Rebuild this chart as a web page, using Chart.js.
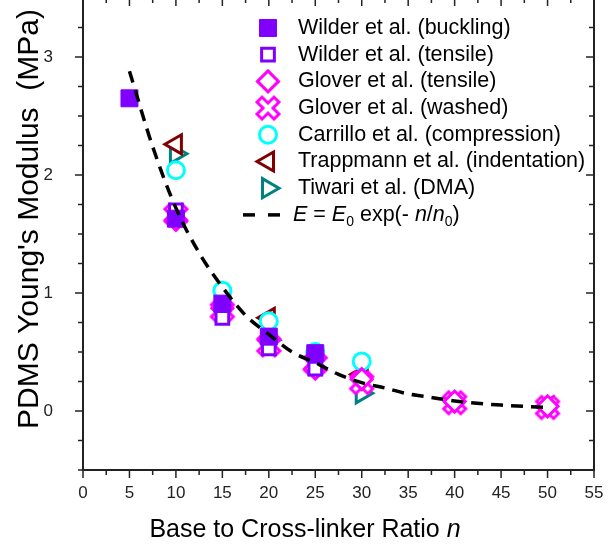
<!DOCTYPE html>
<html>
<head>
<meta charset="utf-8">
<script src="https://cdn.jsdelivr.net/npm/chart.js@4.4.1/dist/chart.umd.min.js"></script>
<style>
  html, body { margin: 0; padding: 0; background: #fff; overflow: hidden; }
  #wrap { position: absolute; left: 0; top: -16px; width: 608px; height: 568px; }
</style>
</head>
<body>
<div id="wrap"><canvas id="modulusChart"></canvas></div>
<script>
// values: n (base : cross-linker) and E in MPa
const wilderBucklingN = [5, 10, 15, 20, 25];
const wilderBucklingE = [2.65, 1.63, 0.91, 0.63, 0.49];
const wilderTensileN = [10, 15, 20, 25];
const wilderTensileE = [1.70, 0.79, 0.53, 0.36];
const gloverTensileN = [10, 15, 20, 25, 30, 40, 50];
const gloverTensileE = [1.62, 0.87, 0.60, 0.36, 0.27, 0.08, 0.04];
const gloverWashedN = [10, 15, 20, 25, 30, 40, 50];
const gloverWashedE = [1.66, 0.85, 0.56, 0.40, 0.24, 0.07, 0.03];
const carrilloN = [10, 15, 20, 25, 30];
const carrilloE = [2.04, 1.02, 0.76, 0.50, 0.42];
const trappmannN = [10, 20, 30, 50];
const trappmannE = [2.26, 0.79, 0.31, 0.035];
const tiwariN = [10, 20, 30];
const tiwariE = [2.18, 0.60, 0.15];
const fitN = [5, 7.5, 10, 12.5, 15, 17.5, 20, 22.5, 25, 27.5, 30, 32.5, 35, 37.5, 40, 45, 50];
const fitE = [2.88, 2.24, 1.72, 1.34, 1.05, 0.81, 0.65, 0.50, 0.41, 0.31, 0.24, 0.195, 0.145, 0.115, 0.085, 0.05, 0.03];

const seriesLabels = ['Wilder et al. (buckling)', 'Wilder et al. (tensile)', 'Glover et al. (tensile)',
  'Glover et al. (washed)', 'Carrillo et al. (compression)', 'Trappmann et al. (indentation)', 'Tiwari et al. (DMA)'];

const VIOLET = '#8000ff', MAGENTA = '#ff00ff', CYAN = '#00ffff', WINE = '#800000', TEAL = '#008080';
const FONT = "'Liberation Sans', Arial, sans-serif";
const SHIFT = 12; // canvas sits 16px above the page top

function pts(xs, ys) {
  return xs.map((v, i) => ({x: v, y: ys[i]}));
}

// thick outlined X marker used for the "washed" series
function makeDoubleCross(color) {
  const c = document.createElement('canvas');
  c.width = 30; c.height = 30;
  const g = c.getContext('2d');
  const s = 11, a = 5;
  g.translate(15, 15);
  g.beginPath();
  g.moveTo(-s, -s + a); g.lineTo(-s + a, -s); g.lineTo(0, -a); g.lineTo(s - a, -s);
  g.lineTo(s, -s + a); g.lineTo(a, 0); g.lineTo(s, s - a); g.lineTo(s - a, s);
  g.lineTo(0, a); g.lineTo(-s + a, s); g.lineTo(-s, s - a); g.lineTo(-a, 0);
  g.closePath();
  g.fillStyle = '#fff';
  g.fill();
  g.strokeStyle = color;
  g.lineWidth = 3;
  g.lineJoin = 'miter';
  g.stroke();
  return c;
}
const doubleCross = makeDoubleCross(MAGENTA);

const markers = [
  {pointStyle: 'rect', radius: 12, rotation: 0, color: VIOLET, fill: VIOLET, borderWidth: 1},
  {pointStyle: 'rect', radius: 9, rotation: 0, color: VIOLET, fill: '#fff', borderWidth: 3},
  {pointStyle: 'rectRot', radius: 10.5, rotation: 0, color: MAGENTA, fill: '#fff', borderWidth: 3},
  {pointStyle: doubleCross, radius: 11, rotation: 0, color: MAGENTA, fill: '#fff', borderWidth: 3},
  {pointStyle: 'circle', radius: 8.5, rotation: 0, color: CYAN, fill: '#fff', borderWidth: 3},
  {pointStyle: 'triangle', radius: 11, rotation: -90, color: WINE, fill: '#fff', borderWidth: 3},
  {pointStyle: 'triangle', radius: 11, rotation: 90, color: TEAL, fill: '#fff', borderWidth: 3}
];

const seriesData = [
  pts(wilderBucklingN, wilderBucklingE),
  pts(wilderTensileN, wilderTensileE),
  pts(gloverTensileN, gloverTensileE),
  pts(gloverWashedN, gloverWashedE),
  pts(carrilloN, carrilloE),
  pts(trappmannN, trappmannE),
  pts(tiwariN, tiwariE)
];

const datasets = seriesData.map((d, i) => ({
  type: 'scatter',
  label: seriesLabels[i],
  data: d,
  order: i + 1,
  pointStyle: markers[i].pointStyle,
  pointRadius: markers[i].radius,
  pointRotation: markers[i].rotation,
  pointBorderColor: markers[i].color,
  pointBackgroundColor: markers[i].fill,
  pointBorderWidth: markers[i].borderWidth,
  pointHoverRadius: markers[i].radius
}));

datasets.push({
  type: 'line',
  label: 'fit',
  data: pts(fitN, fitE),
  order: 0,
  borderColor: '#000',
  borderWidth: 3.5,
  borderDash: [12, 8],
  pointRadius: 0,
  fill: false,
  cubicInterpolationMode: 'monotone'
});

// frame, tick marks, axis titles and legend
const decorations = {
  id: 'decorations',
  afterDraw(chart) {
    const {ctx, chartArea: a, scales: {x, y}} = chart;
    ctx.save();
    ctx.strokeStyle = '#222';
    ctx.lineWidth = 1.5;
    const seg = (x1, y1, x2, y2) => { ctx.beginPath(); ctx.moveTo(x1, y1); ctx.lineTo(x2, y2); ctx.stroke(); };
    x.ticks.forEach(t => {
      const px = x.getPixelForValue(t.value);
      const len = t.value % 5 === 0 ? 8 : 5;
      seg(px, a.bottom, px, a.bottom + len);
      seg(px, a.top, px, a.top + len);
    });
    y.ticks.forEach(t => {
      const py = y.getPixelForValue(t.value);
      const len = Number.isInteger(t.value) ? 8 : 5;
      seg(a.left, py, a.left - len, py);
      seg(a.right, py, a.right - len, py);
    });
    ctx.lineWidth = 2;
    ctx.strokeRect(a.left, a.top, a.right - a.left, a.bottom - a.top);

    // axis titles
    ctx.fillStyle = '#000';
    ctx.textBaseline = 'middle';
    const xt = 'Base to Cross-linker Ratio ';
    ctx.font = '25px ' + FONT;
    const w1 = ctx.measureText(xt).width;
    ctx.font = 'italic 25px ' + FONT;
    const w2 = ctx.measureText('n').width;
    const sx = 305 - (w1 + w2) / 2;
    ctx.textAlign = 'left';
    ctx.font = '25px ' + FONT;
    ctx.fillText(xt, sx, 546 + SHIFT - 12 + 0);
    ctx.font = 'italic 25px ' + FONT;
    ctx.fillText('n', sx + w1, 546 + SHIFT - 12 + 0);

    ctx.save();
    ctx.translate(30, 235);
    ctx.rotate(-Math.PI / 2);
    ctx.textAlign = 'center';
    ctx.font = '30px ' + FONT;
    ctx.fillText('PDMS Young\'s Modulus  (MPa)', 0, 0);
    ctx.restore();

    // legend
    const lx = 268, tx = 298, ly0 = 44, dy = 26.7;
    ctx.textAlign = 'left';
    seriesLabels.forEach((lab, i) => {
      const m = markers[i];
      const cy = ly0 + i * dy;
      ctx.fillStyle = m.fill;
      ctx.strokeStyle = m.color;
      ctx.lineWidth = m.borderWidth;
      Chart.helpers.drawPoint(ctx, {pointStyle: m.pointStyle, radius: m.radius, rotation: m.rotation, borderWidth: m.borderWidth}, lx, cy);
      ctx.fillStyle = '#000';
      ctx.font = '21.5px ' + FONT;
      ctx.fillText(lab, tx, cy);
    });
    const fy = ly0 + 7 * dy;
    ctx.strokeStyle = '#000';
    ctx.lineWidth = 3.5;
    seg(243, fy, 255, fy);
    seg(268, fy, 280, fy);
    const parts = [
      ['E', 'italic'], [' = ', ''], ['E', 'italic'], ['0', 'sub'],
      [' exp(- ', ''], ['n', 'italic'], ['/', ''], ['n', 'italic'], ['0', 'sub'], [')', '']
    ];
    let px = 293;
    ctx.fillStyle = '#000';
    parts.forEach(([s, st]) => {
      if (st === 'sub') {
        ctx.font = '14px ' + FONT;
        ctx.fillText(s, px, fy + 7);
      } else {
        ctx.font = (st ? st + ' ' : '') + '21.5px ' + FONT;
        ctx.fillText(s, px, fy);
      }
      px += ctx.measureText(s).width;
    });
    ctx.restore();
  }
};

const modulusChart = new Chart(document.getElementById('modulusChart'), {
  type: 'scatter',
  data: {datasets: datasets},
  options: {
    responsive: true,
    maintainAspectRatio: false,
    animation: false,
    events: [],
    layout: {padding: {left: 0, right: 8, top: 2, bottom: 0}},
    plugins: {legend: {display: false}, tooltip: {enabled: false}},
    scales: {
      x: {
        type: 'linear', min: 0, max: 55,
        grid: {display: false, drawTicks: false},
        border: {display: false},
        afterFit: s => { s.height = 82; s.paddingLeft = 0; s.paddingRight = 0; },
        ticks: {
          stepSize: 2.5, autoSkip: false, maxRotation: 0, padding: 13,
          color: '#222', font: {family: FONT, size: 17},
          callback: v => (v % 5 === 0 ? String(v) : '')
        }
      },
      y: {
        type: 'linear', min: -0.5, max: 3.5,
        grid: {display: false, drawTicks: false},
        border: {display: false},
        afterFit: s => { s.width = 83; s.paddingTop = 0; s.paddingBottom = 0; },
        ticks: {
          stepSize: 0.25, autoSkip: false, padding: 30,
          color: '#222', font: {family: FONT, size: 17},
          callback: v => (Number.isInteger(v) ? String(v) : '')
        }
      }
    }
  },
  plugins: [decorations]
});
</script>
</body>
</html>
